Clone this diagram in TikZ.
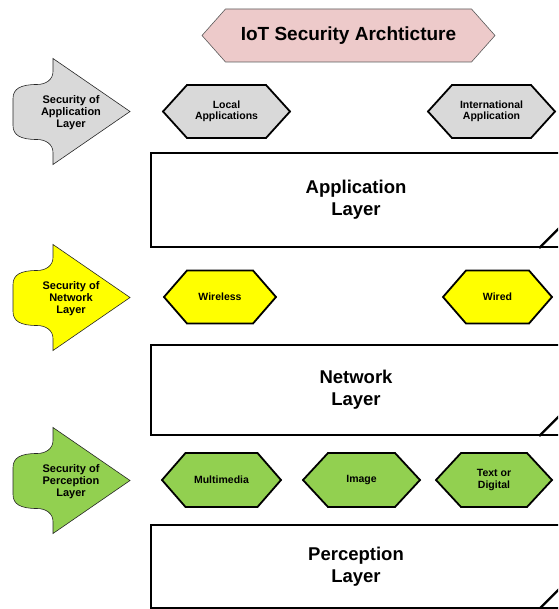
\documentclass[tikz,border=0pt]{standalone}
\usepackage{fontspec}
\setmainfont{Liberation Sans}
\definecolor{titlepink}{HTML}{EDCACA}
\definecolor{appgray}{HTML}{D9D9D9}
\definecolor{netyellow}{HTML}{FFFF00}
\definecolor{percgreen}{HTML}{92D050}
\definecolor{thinline}{HTML}{5A5A5A}
\tikzset{
  hexline/.style={draw=black, line width=1.8pt, line join=miter},
  titleline/.style={draw=thinline, line width=0.6pt},
  secline/.style={draw=black!85, line width=0.6pt},
  boxline/.style={draw=black, line width=2.2pt},
  layerbox/.style={boxline, rectangle, align=center, inner sep=0pt,
    font=\fontsize{18.5}{22}\selectfont\bfseries},
  hextext/.style={align=center, inner sep=0pt, font=\fontsize{10.5}{11.5}\selectfont\bfseries},
  sectext/.style={align=center, inner sep=0pt, font=\fontsize{11}{12}\selectfont\bfseries},
  titletext/.style={inner sep=0pt, font=\fontsize{19}{22}\selectfont\bfseries}
}
% hexagon outline: cx, cy, half width, half height, pointer, style
\newcommand\hexoutline[6]{%
  \draw[#6] (#1-#3,#2) -- (#1-#3+#5,#2-#4) -- (#1+#3-#5,#2-#4) -- (#1+#3,#2)
    -- (#1+#3-#5,#2+#4) -- (#1-#3+#5,#2+#4) -- cycle;}
% security arrow outline: cy, fill
\newcommand\secoutline[2]{%
  \draw[secline, fill=#2] (53,#1-53) -- (130,#1) -- (53,#1+53) -- (53,#1+41)
    .. controls (53,#1+33) and (46,#1+28) .. (37,#1+28)
    .. controls (21,#1+28) and (13,#1+24) .. (13,#1+14)
    -- (13,#1-13)
    .. controls (13,#1-23) and (21,#1-27) .. (37,#1-27)
    .. controls (46,#1-27) and (53,#1-32) .. (53,#1-40) -- cycle;}
\begin{document}
\begin{tikzpicture}[x=1pt,y=-1pt]
\useasboundingbox (0,0) rectangle (558,609);
\clip (0,0) rectangle (558,609);

% title
\hexoutline{348.5}{35.5}{146.5}{26.5}{23.5}{titleline, fill=titlepink}
\node[titletext] (title) at (348.5,35.5) {IoT Security Archticture};

% ---- application row
\secoutline{111.5}{appgray}
\node[sectext] (secapp) at (71,113) {Security of\\Application\\Layer};
\hexoutline{226.5}{111.5}{63.5}{26.5}{24}{hexline, fill=appgray}
\node[hextext] (local) at (226.5,111.5) {Local\\Applications};
\hexoutline{491.5}{111.5}{63.5}{26.5}{24}{hexline, fill=appgray}
\node[hextext] (intl) at (491.5,111.5) {International\\Application};
\node[layerbox, minimum width=410pt, minimum height=94pt] (applayer) at (356,200) {Application\\Layer};
\draw[boxline] ([xshift=-23pt]applayer.south east) -- ([yshift=23pt]applayer.south east);

% ---- network row
\secoutline{297.5}{netyellow}
\node[sectext] (secnet) at (71,299) {Security of\\Network\\Layer};
\hexoutline{220}{297}{56}{26.5}{23}{hexline, fill=netyellow}
\node[hextext] (wireless) at (220,297) {Wireless};
\hexoutline{497.5}{297}{54.5}{26.5}{23}{hexline, fill=netyellow}
\node[hextext] (wired) at (497.5,297) {Wired};
\node[layerbox, minimum width=410pt, minimum height=90pt] (netlayer) at (356,390) {Network\\Layer};
\draw[boxline] ([xshift=-23pt]netlayer.south east) -- ([yshift=23pt]netlayer.south east);

% ---- perception row
\secoutline{480.5}{percgreen}
\node[sectext] (secperc) at (71,482) {Security of\\Perception\\Layer};
\hexoutline{221.5}{480}{59.5}{27}{23.5}{hexline, fill=percgreen}
\node[hextext] (multi) at (221.5,480) {Multimedia};
\hexoutline{361.5}{480}{58.5}{27}{25}{hexline, fill=percgreen}
\node[hextext] (image) at (361.5,480) {Image};
\hexoutline{494}{480}{58}{27}{25}{hexline, fill=percgreen}
\node[hextext] (textdig) at (494,480) {Text or\\Digital};
\node[layerbox, minimum width=410pt, minimum height=83pt] (perclayer) at (356,566.5) {Perception\\Layer};
\draw[boxline] ([xshift=-23pt]perclayer.south east) -- ([yshift=23pt]perclayer.south east);
\end{tikzpicture}
\end{document}
